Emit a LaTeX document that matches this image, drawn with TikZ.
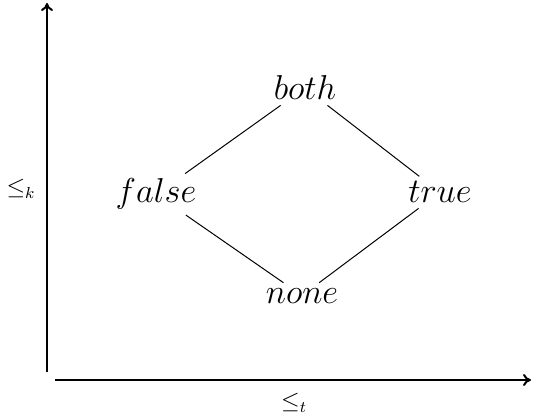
\documentclass[tikz,border=0pt]{standalone}
\usetikzlibrary{arrows.meta}
\begin{document}
\begin{tikzpicture}[
  x=0.5pt, y=-0.5pt,
  val/.style={font=\LARGE, inner xsep=5pt, inner ysep=2.5pt},
  axis/.style={-{To[length=4pt,width=6pt]}, line width=1pt},
  link/.style={line width=0.5pt},
  lbl/.style={font=\large, inner sep=0pt}
]
\useasboundingbox (0,0) rectangle (533,416);
% axes
\coordinate (korig) at (47,372);
\coordinate (ktop)  at (47,3);
\coordinate (torig) at (55,380);
\coordinate (tend)  at (531,380);
\draw[axis] (korig) -- (ktop);
\draw[axis] (torig) -- (tend);
\node[lbl] (klbl) at (21,189) {$\leq_k$};
\node[lbl] (tlbl) at (294,403) {$\leq_t$};
% lattice
\node[val, anchor=base] (both)  at (305,100) {$both$};
\node[val, anchor=base] (false) at (156,203) {$false$};
\node[val, anchor=base] (true)  at (440,203) {$true$};
\node[val, anchor=base] (none)  at (302,303) {$none$};
\draw[link] (both)  -- (false);
\draw[link] (both)  -- (true);
\draw[link] (false) -- (none);
\draw[link] (true)  -- (none);
\end{tikzpicture}
\end{document}
